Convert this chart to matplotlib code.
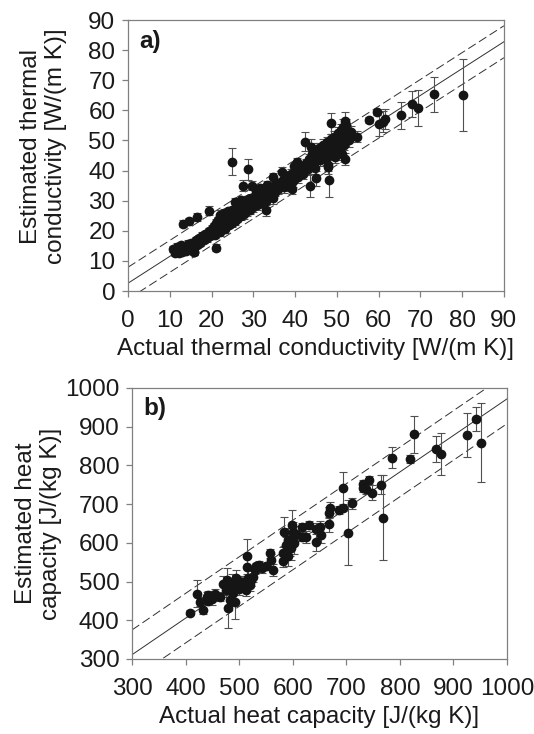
import matplotlib.pyplot as plt
import numpy as np

plt.rcParams['font.family'] = ['Liberation Sans', 'DejaVu Sans']

# a) thermal conductivity, W/(m K)
k_actual = [10.8, 11.2, 11.8, 12.2, 12.6, 13.0, 13.5, 14.0, 14.3, 14.8, 15.0, 15.5, 15.8, 16.2, 16.6,
            17.0, 17.3, 17.8, 18.1, 18.5, 18.9, 19.3, 19.6, 20.0, 20.3,
            13.1, 14.7, 16.4, 19.3, 22.0, 21.0, 12.2, 15.8,
            20.5, 20.8, 21.0, 21.3, 21.6, 21.8, 22.0, 22.3, 22.5, 22.8, 23.0, 23.2, 23.5, 23.8, 24.0,
            24.2, 24.5, 24.8, 25.0, 25.2, 25.5, 25.8, 26.0, 26.2, 26.5, 26.8, 27.0, 27.2, 27.5, 27.8,
            28.0, 28.3, 28.5, 28.8, 29.0, 29.3, 29.5, 29.8, 30.0, 30.3, 30.6,
            31.0, 31.3, 31.6, 32.0, 32.3, 32.6, 33.0, 33.3, 33.6, 34.0, 34.3, 34.6, 35.0, 35.3, 35.8,
            36.0, 36.5, 37.0, 37.3, 37.8, 38.0, 38.5, 38.8, 39.0, 39.5, 40.0, 40.3, 40.8, 41.0, 41.5, 42.0,
            42.5, 43.0, 43.3, 43.8, 44.0, 44.5, 44.8, 45.0, 45.3, 45.8, 46.0, 46.3, 46.8, 47.0, 47.3,
            47.6, 47.8, 48.0, 48.3, 48.5, 48.8, 49.0, 49.3, 49.6, 50.0, 50.3, 50.6, 50.8, 51.0, 51.3,
            51.6, 51.8, 52.0, 52.2, 52.5,
            24.8, 28.7, 27.6, 29.7, 30.6, 33.2, 39.7, 42.3, 43.7, 48.6, 51.9, 51.4, 47.9, 48.2,
            43.5, 45.1, 39.2, 33.1, 52.8, 53.5, 54.9, 57.7, 59.5, 60.1, 61.0, 61.5, 65.3, 68.1, 69.5,
            73.3, 80.2,
            23.0, 25.5, 27.0, 31.5, 34.8, 36.8, 40.5, 44.2]
k_est = [13.8, 12.6, 14.6, 12.5, 15.3, 12.8, 14.1, 13.3, 15.6, 14.2, 16.1, 15.0, 12.9, 16.8, 15.3,
         17.6, 16.1, 18.3, 16.9, 19.1, 17.6, 19.8, 18.3, 20.6, 19.0,
         22.3, 23.2, 24.6, 26.6, 25.4, 14.4, 13.4, 13.0,
         21.5, 18.6, 22.5, 20.0, 23.5, 21.2, 19.5, 22.8, 24.5, 21.0, 23.5, 20.5, 25.0, 22.5, 26.5,
         21.8, 24.2, 22.5, 27.0, 25.0, 23.2, 27.8, 26.0, 24.0, 28.5, 26.5, 25.0, 29.0, 27.2, 25.5,
         29.8, 27.8, 26.5, 30.5, 28.5, 27.0, 31.0, 29.2, 27.8, 31.5, 29.8,
         28.5, 32.0, 30.5, 29.2, 32.5, 31.0, 30.0, 33.0, 31.5, 34.5, 32.2, 30.8, 35.0, 33.0, 36.0,
         33.8, 35.2, 37.0, 34.5, 36.0, 38.2, 35.0, 37.5, 39.0, 36.5, 38.5, 40.0, 37.8, 39.5, 41.0, 39.0,
         42.5, 40.5, 44.0, 42.0, 45.5, 43.0, 41.0, 46.5, 44.5, 47.5, 43.5, 45.8, 48.5, 46.0, 44.0,
         49.5, 42.0, 47.5, 45.5, 50.5, 48.0, 46.0, 51.0, 44.5, 49.0, 52.5, 47.0, 50.0, 53.5, 45.5,
         48.5, 51.5, 44.0, 55.0, 53.0,
         43.0, 40.4, 35.0, 35.0, 33.2, 35.2, 41.5, 49.6, 47.9, 55.7, 56.6, 54.6, 41.3, 36.9,
         35.0, 37.4, 33.8, 26.9, 50.0, 52.9, 51.3, 56.8, 59.6, 55.6, 56.2, 57.2, 58.4, 62.1, 60.7,
         65.4, 65.1,
         26.0, 29.5, 30.2, 34.2, 37.8, 39.5, 42.8, 47.0]
k_err = [1.0, 0.8, 1.2, 1.0, 1.0, 0.8, 1.0, 1.0, 1.2, 1.0, 1.0, 1.0, 1.0, 1.2, 1.0,
         1.0, 1.0, 1.2, 1.0, 1.0, 1.2, 1.0, 1.0, 1.2, 1.0,
         1.2, 1.2, 1.3, 1.5, 1.5, 1.2, 1.0, 1.0,
         1.2, 1.0, 1.5, 1.2, 1.0, 1.5, 1.2, 1.0, 1.5, 1.2, 1.0, 1.2, 1.5, 1.0, 1.2,
         1.0, 1.5, 1.2, 1.0, 1.5, 1.2, 1.0, 1.5, 1.2, 1.0, 1.2, 1.5, 1.0, 1.2, 1.5,
         1.0, 1.2, 1.5, 1.0, 1.2, 1.5, 1.2, 1.0, 1.5, 1.2, 1.0,
         1.5, 1.2, 1.0, 1.5, 1.2, 1.0, 1.5, 1.2, 1.0, 1.2, 1.5, 1.8, 1.2, 1.5, 1.2,
         1.5, 1.2, 1.5, 1.8, 1.2, 1.5, 1.8, 1.2, 1.5, 1.8, 1.2, 1.5, 1.8, 1.2, 1.5, 1.8,
         1.5, 2.0, 1.5, 1.8, 2.0, 1.5, 2.0, 1.8, 2.0, 1.5, 2.0, 1.8, 2.0, 1.5, 2.0,
         1.8, 2.0, 1.5, 2.0, 1.8, 2.0, 1.5, 2.0, 2.0, 1.8, 2.0, 2.0, 1.8, 2.0, 2.0,
         1.8, 2.0, 2.0, 2.0, 2.0,
         4.4, 3.4, 1.8, 1.5, 1.2, 1.5, 1.5, 3.2, 2.5, 3.4, 3.0, 2.5, 2.5, 5.6,
         3.8, 2.5, 1.5, 2.0, 2.0, 2.0, 1.8, 1.0, 1.0, 4.0, 3.5, 3.3, 4.5, 4.2, 6.0,
         5.8, 12.0,
         1.2, 1.5, 1.2, 1.5, 1.5, 1.8, 1.5, 2.0]
k_fit = [2.6, 0.891]   # intercept, slope
k_band = 5.3

# b) heat capacity, J/(kg K)
cp_actual = [408, 421, 427, 433, 440, 442, 442, 450, 455, 464, 470, 475, 477, 480, 480, 483, 486, 489,
             492, 492, 495, 498, 500, 504, 507, 510, 513, 516, 515, 515, 520, 523, 526, 530, 532, 538,
             543, 550, 558, 560, 563, 582, 582, 584, 588, 591, 591, 595, 597, 599, 600, 600, 603, 606,
             618, 618, 625, 630, 644, 644, 652, 651, 668, 668, 669, 687, 694, 693, 703, 710, 732, 732,
             737, 743, 748, 765, 769, 785, 819, 826, 868, 876, 926, 942, 952]
cp_est = [420, 468, 448, 427, 461, 449, 466, 455, 468, 461, 494, 479, 504, 431, 480, 453, 500, 470,
          448, 487, 510, 496, 480, 500, 490, 500, 478, 509, 565, 537, 490, 504, 513, 530, 539, 543,
          535, 539, 573, 556, 530, 552, 573, 629, 595, 608, 565, 590, 586, 646, 629, 616, 600, 624,
          616, 640, 615, 646, 637, 603, 620, 642, 648, 678, 691, 685, 741, 691, 626, 702, 752, 741,
          738, 762, 730, 750, 665, 820, 816, 880, 842, 829, 879, 919, 859]
cp_err = [6, 35, 12, 12, 12, 10, 10, 15, 12, 10, 20, 20, 30, 50, 15, 15, 20, 20,
          45, 15, 20, 15, 15, 15, 15, 15, 15, 20, 45, 25, 15, 15, 15, 10, 10, 10,
          12, 10, 12, 15, 15, 15, 15, 38, 20, 30, 25, 25, 30, 38, 25, 25, 30, 20,
          12, 12, 15, 10, 15, 25, 20, 15, 20, 15, 15, 10, 42, 10, 84, 15, 10, 10,
          12, 10, 20, 25, 110, 27, 10, 47, 34, 54, 56, 31, 102]
cp_fit = [27.8, 0.944]
cp_band = 64

FS = 17.5


def panel(ax, x, y, err, fit, band, lo, hi, step, tag, xlabel, ylabel):
    ax.errorbar(x, y, yerr=err, fmt='none', ecolor='#505050', elinewidth=0.8,
                capsize=3.2, capthick=0.8, zorder=2)
    ax.plot(x, y, 'o', color='#151515', ms=6, mec='#151515', zorder=3)
    xs = np.array([lo, hi])
    b0, b1 = fit
    ax.plot(xs, b0 + b1 * xs, color='#303030', lw=0.7, zorder=1)
    ax.plot(xs, b0 + band + b1 * xs, color='#303030', lw=0.7, dashes=(9, 4), zorder=1)
    ax.plot(xs, b0 - band + b1 * xs, color='#303030', lw=0.7, dashes=(9, 4), zorder=1)
    ax.set_xlim(lo, hi)
    ax.set_ylim(lo, hi)
    ax.set_xticks(np.arange(lo, hi + 1, step))
    ax.set_yticks(np.arange(lo, hi + 1, step))
    for s in ax.spines.values():
        s.set_color('#808080')
        s.set_linewidth(0.9)
    ax.tick_params(direction='out', length=4, width=0.9, color='#808080',
                   labelsize=FS, labelcolor='#1a1a1a')
    ax.tick_params(axis='y', pad=5)
    ax.tick_params(axis='x', pad=10)
    ax.text(0.03, 0.965, tag, transform=ax.transAxes, fontsize=FS,
            fontweight='bold', ha='left', va='top', color='#1a1a1a')
    ax.set_xlabel(xlabel, fontsize=FS, color='#1a1a1a', labelpad=4)
    ax.set_ylabel(ylabel, fontsize=FS, color='#1a1a1a', va='center', linespacing=1.15)


fig = plt.figure(figsize=(5.34, 7.34), dpi=100)
ax1 = fig.add_axes([0.2397, 0.6035, 0.704, 0.3692])
ax2 = fig.add_axes([0.2472, 0.1022, 0.7022, 0.3692])

panel(ax1, k_actual, k_est, k_err, k_fit, k_band, 0, 90, 10, 'a)',
      'Actual thermal conductivity [W/(m K)]',
      'Estimated thermal\nconductivity [W/(m K)]')
panel(ax2, cp_actual, cp_est, cp_err, cp_fit, cp_band, 300, 1000, 100, 'b)',
      'Actual heat capacity [J/(kg K)]',
      'Estimated heat\ncapacity [J/(kg K)]')
ax1.yaxis.set_label_coords(-0.225, 0.535)
ax2.yaxis.set_label_coords(-0.25, 0.5)

fig.savefig('out.png', dpi=100)
